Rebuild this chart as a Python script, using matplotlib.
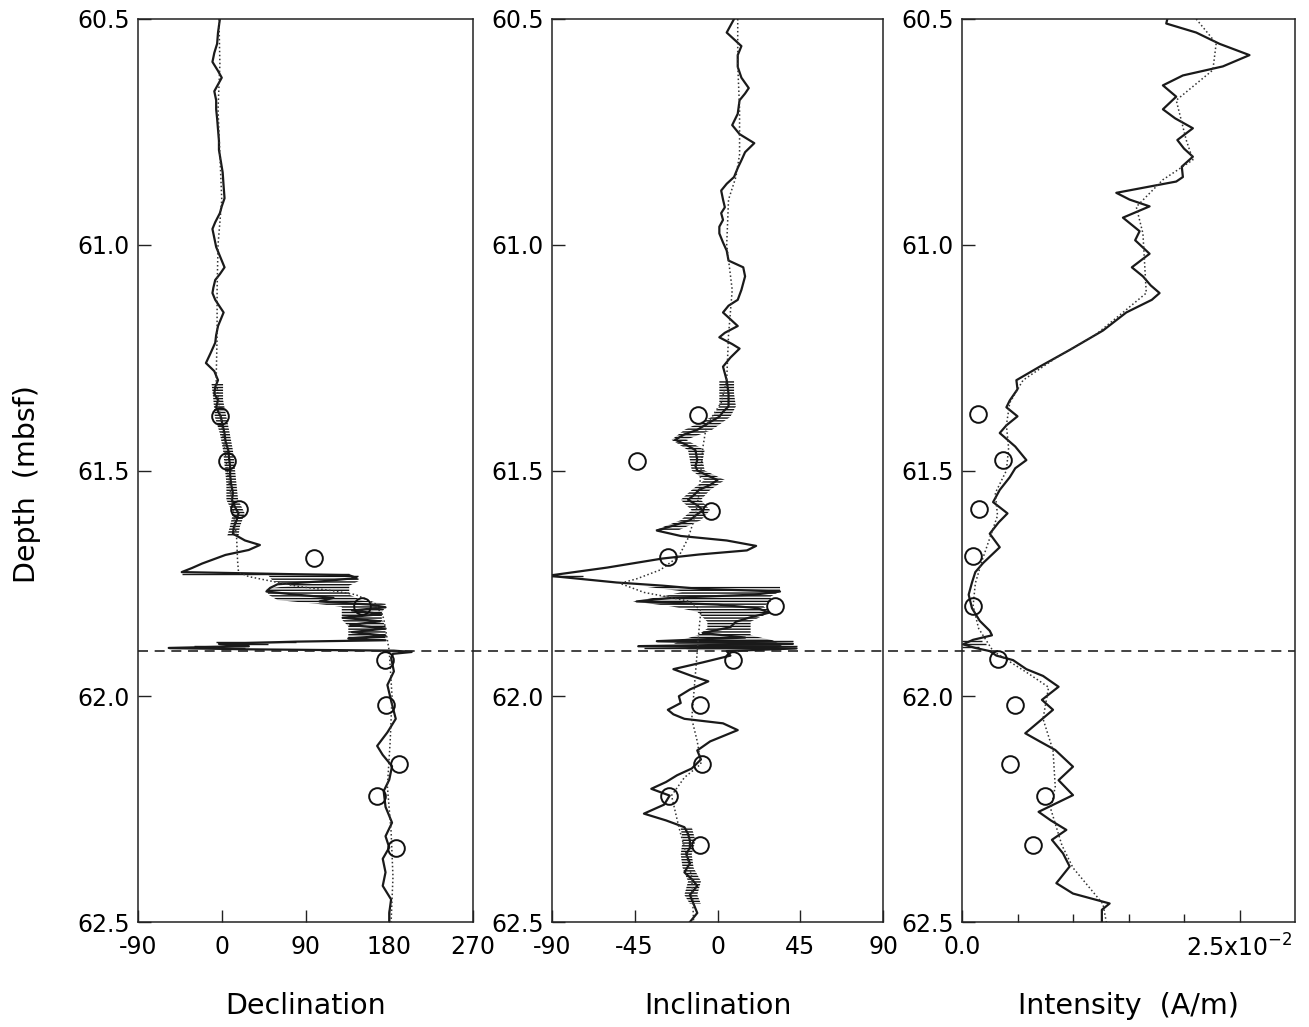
import numpy as np
import matplotlib
matplotlib.use('Agg')
import matplotlib.pyplot as plt

plt.rcParams['font.family'] = ['DejaVu Sans']
plt.rcParams['mathtext.default'] = 'regular'
plt.rcParams['hatch.linewidth'] = 1.0

# ---- declination (deg) ----
dec_depth = [60.500, 60.530, 60.555, 60.575, 60.595, 60.615, 60.630, 60.645, 60.660, 60.680,
             60.700, 60.720, 60.745, 60.770, 60.790, 60.815, 60.840, 60.870, 60.897, 60.915,
             60.930, 60.950, 60.965, 60.985, 61.005, 61.030, 61.050, 61.065, 61.078, 61.095,
             61.107, 61.122, 61.150, 61.180, 61.200, 61.217, 61.240, 61.262, 61.280, 61.300,
             61.315, 61.330, 61.344, 61.360, 61.381, 61.400, 61.418, 61.435, 61.455, 61.475,
             61.492, 61.510, 61.529, 61.550, 61.565, 61.580, 61.595, 61.610, 61.625, 61.640,
             61.655, 61.665, 61.676, 61.687, 61.706, 61.716, 61.725, 61.732, 61.738, 61.745,
             61.752, 61.760, 61.768, 61.775, 61.782, 61.790, 61.797, 61.803, 61.810, 61.818,
             61.826, 61.834, 61.842, 61.850, 61.858, 61.866, 61.872, 61.876, 61.879, 61.884,
             61.889, 61.893, 61.896, 61.899, 61.902, 61.906, 61.915, 61.945, 61.975, 62.010,
             62.050, 62.080, 62.110, 62.130, 62.155, 62.185, 62.210, 62.245, 62.280, 62.310,
             62.335, 62.360, 62.390, 62.420, 62.450, 62.480, 62.500]
dec_value = [-2, -4, -5, -8, -10, -4, 0, -4, -8, -6,
             -6, -5, -4, -3, -3, -1, 1, 2, 3, 0,
             -2, -7, -10, -8, -6, -1, 3, -2, -7, -9,
             -10, -7, 2, -4, -6, -7, -12, -17, -8, -4,
             -7, -8, -4, -6, -1, 1, 3, 4, 7, 8,
             9, 9, 10, 12, 11, 14, 18, 16, 13, 12,
             25, 41, 29, 4, -21, -32, -43, 137, 145, 110,
             60, 52, 48, 80, 120, 105, 160, 176, 140, 172,
             130, 170, 138, 176, 140, 176, 136, 176, 80, -3,
             29, -57, 25, 185, 204, 184, 182, 185, 178, 182,
             187, 178, 167, 173, 183, 180, 174, 176, 183, 176,
             180, 173, 176, 173, 182, 180, 180]
dec_band1_depth = [61.307, 61.344, 61.381, 61.418, 61.455, 61.492, 61.529, 61.565, 61.595, 61.625, 61.645]
dec_band1_left = [-11, -9, -7.5, -2, 1.4, 3.2, 5, 5, 12, 8.6, 6]
dec_band1_right = [1.4, 1.4, 5, 8.6, 12, 14, 15.8, 17.6, 24.7, 19.4, 18]
dec_band2_depth = [61.732, 61.745, 61.755, 61.762, 61.775, 61.787, 61.795, 61.802, 61.815, 61.830, 61.845, 61.860, 61.872]
dec_band2_left = [50, 55, 75, 48, 50, 60, 101, 129, 129, 129, 136, 136, 136]
dec_band2_right = [147, 147, 137, 137, 137, 150, 176, 176, 172, 172, 176, 176, 176]
dec_spike_depth = [61.730, 61.879, 61.884, 61.889, 61.893, 61.900]
dec_spike_left = [-43, -6, -3, -30, -57, 172]
dec_spike_right = [137, 80, 50, 29, 25, 204]
dec_smooth_depth = [60.5, 60.6, 60.7, 60.8, 60.9, 61.0, 61.1, 61.2, 61.3, 61.4, 61.5, 61.6, 61.65, 61.7,
                    61.725, 61.735, 61.75, 61.757, 61.766, 61.775, 61.795, 61.827, 61.9, 62.0, 62.1,
                    62.2, 62.3, 62.4, 62.5]
dec_smooth_value = [-3, -2, -4, -2, 0, -4, -5, -5, -6, 0, 6, 13, 16, 17,
                    18, 29, 65, 83, 118, 144, 165, 174, 180, 183, 181,
                    178, 182, 184, 182]
dec_disc_depth = [61.38, 61.48, 61.585, 61.693, 61.80, 61.92, 62.02, 62.15, 62.22, 62.335]
dec_disc_value = [-1.4, 5.7, 18, 99, 151, 175, 176, 191, 167, 187]

# ---- inclination (deg) ----
inc_depth = [60.500, 60.515, 60.530, 60.545, 60.560, 60.580, 60.606, 60.630, 60.653, 60.665,
             60.680, 60.710, 60.735, 60.755, 60.775, 60.795, 60.813, 60.830, 60.850, 60.865,
             60.880, 60.900, 60.917, 60.930, 60.945, 60.960, 60.975, 60.995, 61.013, 61.035,
             61.050, 61.070, 61.085, 61.100, 61.122, 61.135, 61.150, 61.165, 61.180, 61.195,
             61.205, 61.220, 61.230, 61.250, 61.270, 61.285, 61.300, 61.330, 61.358, 61.370,
             61.381, 61.395, 61.410, 61.420, 61.432, 61.443, 61.455, 61.477, 61.490, 61.500,
             61.512, 61.521, 61.532, 61.543, 61.555, 61.565, 61.577, 61.588, 61.600, 61.610,
             61.622, 61.633, 61.645, 61.655, 61.667, 61.677, 61.686, 61.695, 61.705, 61.715,
             61.725, 61.733, 61.740, 61.748, 61.755, 61.762, 61.768, 61.775, 61.782, 61.790,
             61.797, 61.805, 61.815, 61.825, 61.835, 61.847, 61.860, 61.870, 61.878, 61.884,
             61.889, 61.894, 61.900, 61.910, 61.925, 61.940, 61.955, 61.967, 61.985, 62.000,
             62.015, 62.030, 62.040, 62.050, 62.060, 62.075, 62.085, 62.100, 62.120, 62.140,
             62.160, 62.175, 62.190, 62.205, 62.220, 62.240, 62.260, 62.275, 62.290, 62.305,
             62.320, 62.335, 62.350, 62.370, 62.390, 62.405, 62.420, 62.440, 62.460, 62.480,
             62.500]
inc_value = [9, 7, 5, 9, 13, 11, 11, 13, 17, 15,
             12, 11, 8, 12, 20, 15, 13, 11, 9, 5,
             2, 3, 4, 2, 3, 1, 1, 3, 5, 6,
             14, 15, 14, 13, 11, 6, 3, 7, 11, 4,
             1, 8, 12, 7, 3, 4, 5, 6, 6, 3,
             1, -5, -11, -18, -23, -17, -12, -11, -12, -11,
             -5, 0, -4, -10, -13, -16, -11, -8, -12, -15,
             -24, -33, -20, 5, 21, 16, -10, -30, -45, -60,
             -78, -92, -75, -55, -30, -10, 34, 20, -25, -44,
             0, 22, 28, 18, 10, 7, -8, 15, -33, 41,
             -43, 43, 5, 7, -8, -24, -14, -5, -15, -21,
             -20, -27, -24, -18, 3, 11, 5, -4, -11, -9,
             -14, -22, -28, -36, -26, -29, -40, -28, -18, -16,
             -15, -15, -17, -15, -18, -14, -11, -15, -13, -11,
             -15]
inc_band1_depth = [61.300, 61.330, 61.358, 61.381, 61.410, 61.432, 61.455, 61.477, 61.500, 61.521,
                   61.543, 61.565, 61.588, 61.610, 61.632]
inc_band1_left = [1, 1, 1, -3, -18, -25, -16, -15, -14, -7, -14, -20, -14, -20, -34]
inc_band1_right = [9, 9, 10, 7, -3, -17, -7, -8, -7, 4, -4, -9, -4, -9, -21]
inc_band2_depth = [61.757, 61.768, 61.779, 61.790, 61.801, 61.813, 61.835, 61.850, 61.865, 61.876, 61.887, 61.898]
inc_band2_left = [-40, -18, -30, -46, -25, -11, -5.5, -5.5, -11, -20, -25, -15]
inc_band2_right = [34, 34, 29, 29, 25, 29, 18, 18, 18, 30, 35, 30]
inc_band3_depth = [62.29, 62.32, 62.35, 62.38, 62.41, 62.44, 62.46]
inc_band3_left = [-20, -19, -20, -19, -16, -18, -15]
inc_band3_right = [-14, -12, -14, -13, -9, -11, -9]
inc_spike_depth = [61.733, 61.878, 61.888, 61.894]
inc_spike_left = [-92, -33, -43.6, -40]
inc_spike_right = [-73, 41, 43.5, 42]
inc_smooth_depth = [60.5, 60.6, 60.7, 60.8, 60.85, 60.9, 61.0, 61.1, 61.2, 61.3, 61.35, 61.4, 61.45,
                    61.5, 61.55, 61.6, 61.65, 61.69, 61.72, 61.74, 61.75, 61.77, 61.78, 61.79, 61.81,
                    61.85, 61.9, 61.95, 62.0, 62.05, 62.1, 62.15, 62.18, 62.22, 62.29, 62.35, 62.4, 62.5]
inc_smooth_value = [11, 11, 12, 12, 10, 6, 5, 8, 6, 5, 2, -6, -8,
                    -9, -10, -12, -16, -21, -31, -44, -53, -40, -27, -15, -9,
                    -10, -11, -12, -13, -14, -11, -9, -18, -25, -21, -17, -14, -13]
inc_disc_depth = [61.377, 61.48, 61.589, 61.692, 61.80, 61.92, 62.02, 62.15, 62.22, 62.33]
inc_disc_value = [-10.5, -43.6, -3.8, -27, 31, 8.5, -9.6, -8.2, -26.5, -9.6]

# ---- intensity (x 1e-2 A/m) ----
int_depth = [60.500, 60.510, 60.530, 60.555, 60.580, 60.605, 60.625, 60.647, 60.672, 60.700,
             60.720, 60.742, 60.768, 60.787, 60.805, 60.827, 60.850, 60.860, 60.885, 60.900,
             60.915, 60.940, 60.970, 60.990, 61.020, 61.050, 61.070, 61.090, 61.107, 61.122,
             61.150, 61.190, 61.233, 61.270, 61.300, 61.320, 61.345, 61.360, 61.380, 61.400,
             61.417, 61.447, 61.477, 61.495, 61.515, 61.543, 61.570, 61.595, 61.615, 61.640,
             61.670, 61.705, 61.725, 61.748, 61.775, 61.805, 61.833, 61.855, 61.865, 61.875,
             61.885, 61.893, 61.900, 61.910, 61.920, 61.940, 61.955, 61.979, 62.008, 62.030,
             62.055, 62.082, 62.100, 62.119, 62.156, 62.186, 62.219, 62.256, 62.275, 62.296,
             62.318, 62.348, 62.377, 62.414, 62.437, 62.459, 62.473, 62.500]
int_value = [1.85, 1.84, 2.11, 2.32, 2.59, 2.35, 1.99, 1.81, 1.93, 1.81,
             1.92, 2.08, 1.94, 2.00, 2.08, 1.98, 1.99, 1.93, 1.39, 1.51,
             1.69, 1.45, 1.60, 1.56, 1.69, 1.53, 1.63, 1.70, 1.78, 1.71,
             1.48, 1.27, 0.97, 0.70, 0.49, 0.50, 0.43, 0.40, 0.50, 0.40,
             0.34, 0.48, 0.58, 0.48, 0.43, 0.34, 0.28, 0.41, 0.33, 0.25,
             0.34, 0.19, 0.12, 0.09, 0.06, 0.09, 0.16, 0.25, 0.27, 0.10,
             0.01, 0.12, 0.25, 0.31, 0.46, 0.58, 0.73, 0.87, 0.72, 0.82,
             0.70, 0.57, 0.70, 0.84, 1.00, 0.87, 1.00, 0.69, 0.80, 0.94,
             0.81, 0.91, 0.97, 0.85, 1.00, 1.33, 1.26, 1.26]
int_spike_depth = [61.877, 61.885, 61.892]
int_spike_left = [0.0, 0.0, 0.0]
int_spike_right = [0.18, 0.22, 0.15]
int_smooth_depth = [60.5, 60.554, 60.613, 60.68, 60.768, 60.812, 60.856, 60.916, 60.975, 61.107,
                    61.15, 61.2, 61.25, 61.3, 61.35, 61.4, 61.45, 61.5, 61.55, 61.6, 61.65, 61.7,
                    61.75, 61.8, 61.85, 61.9, 61.95, 61.98, 62.05, 62.12, 62.2, 62.25, 62.33, 62.38,
                    62.46, 62.5]
int_smooth_value = [2.11, 2.29, 2.26, 1.93, 2.02, 2.08, 1.81, 1.57, 1.63, 1.66,
                    1.45, 1.20, 0.85, 0.55, 0.43, 0.40, 0.42, 0.40, 0.30, 0.32, 0.25, 0.18,
                    0.12, 0.10, 0.15, 0.28, 0.60, 0.78, 0.73, 0.82, 0.84, 0.80, 0.90, 1.00,
                    1.27, 1.30]
int_disc_depth = [61.375, 61.477, 61.585, 61.69, 61.80, 61.917, 62.02, 62.15, 62.22, 62.33]
int_disc_value = [0.14, 0.37, 0.15, 0.10, 0.10, 0.32, 0.48, 0.43, 0.75, 0.64]

boundary_depth = 61.9
depth_ticks = [60.5, 61.0, 61.5, 62.0, 62.5]

W, H = 1309, 1027
fig = plt.figure(figsize=(W / 100, H / 100), dpi=100)
bottom = 1 - 922 / H
height = 903 / H
ax1 = fig.add_axes([138 / W, bottom, 335 / W, height])
ax2 = fig.add_axes([552 / W, bottom, 331 / W, height])
ax3 = fig.add_axes([962 / W, bottom, 333 / W, height])

scale = 1e-2
panels = [
    (ax1, dec_depth, dec_value,
     [(dec_band1_depth, dec_band1_left, dec_band1_right), (dec_band2_depth, dec_band2_left, dec_band2_right)],
     (dec_spike_depth, dec_spike_left, dec_spike_right),
     (dec_smooth_depth, dec_smooth_value), (dec_disc_depth, dec_disc_value), 1.0),
    (ax2, inc_depth, inc_value,
     [(inc_band1_depth, inc_band1_left, inc_band1_right), (inc_band2_depth, inc_band2_left, inc_band2_right),
      (inc_band3_depth, inc_band3_left, inc_band3_right)],
     (inc_spike_depth, inc_spike_left, inc_spike_right),
     (inc_smooth_depth, inc_smooth_value), (inc_disc_depth, inc_disc_value), 1.0),
    (ax3, int_depth, int_value, [],
     (int_spike_depth, int_spike_left, int_spike_right),
     (int_smooth_depth, int_smooth_value), (int_disc_depth, int_disc_value), scale),
]

for ax, d, v, bands, spikes, smooth, disc, f in panels:
    ax.set_facecolor('none')
    for bd, bl, br in bands:
        ax.fill_betweenx(bd, np.array(bl) * f, np.array(br) * f, facecolor='none',
                         edgecolor='#111111', hatch='------', linewidth=0)
    sd, sl, sr = spikes
    ax.hlines(sd, np.array(sl) * f, np.array(sr) * f, colors='#1a1a1a', linewidth=1.0)
    ax.plot(np.array(v) * f, d, color='#1a1a1a', linewidth=1.6)
    ax.plot(np.array(smooth[1]) * f, smooth[0], color='#333333', linewidth=1.1,
            linestyle=(0, (1, 1.6)))
    ax.plot(np.array(disc[1]) * f, disc[0], 'o', markersize=12, markerfacecolor='none',
            markeredgecolor='#111111', markeredgewidth=1.4)
    ax.set_ylim(62.5, 60.5)
    ax.set_yticks(depth_ticks)
    ax.set_yticklabels(['%.1f' % t for t in depth_ticks])
    ax.tick_params(direction='in', length=9, width=1.0, labelsize=17, color='#222222')
    ax.tick_params(axis='x', pad=9)
    ax.tick_params(axis='y', pad=6)
    for sp in ax.spines.values():
        sp.set_linewidth(1.1)
        sp.set_color('#222222')

ax1.set_xlim(-90, 270)
ax1.set_xticks([-90, 0, 90, 180, 270])
ax1.set_xticklabels(['-90', '0', '90', '180', '270'])
ax2.set_xlim(-90, 90)
ax2.set_xticks([-90, -45, 0, 45, 90])
ax2.set_xticklabels(['-90', '-45', '0', '45', '90'])
ax3.set_xlim(0, 0.03)
ax3.set_xticks([0, 0.025])
ax3.set_xticklabels(['0.0', '2.5x10$^{-2}$'])
ax3.set_xticks([0.005, 0.01, 0.015, 0.02], minor=True)
ax3.tick_params(axis='x', which='minor', direction='in', length=6, width=1.0, color='#222222')

ax1.set_xlabel('Declination', fontsize=20.5)
ax2.set_xlabel('Inclination', fontsize=20.5)
ax3.set_xlabel('Intensity  (A/m)', fontsize=20.5)
for ax in (ax1, ax2, ax3):
    ax.xaxis.set_label_coords(0.5, -0.077)
ax1.set_ylabel('Depth  (mbsf)', fontsize=20.5)
ax1.yaxis.set_label_coords(-0.29, 0.485)

# polarity boundary drawn across all three panels
ax1.axhline(boundary_depth, xmin=0, xmax=(1295 - 138) / 335, clip_on=False,
            color='#222222', linewidth=1.2, dashes=(6, 4), zorder=5)

fig.savefig('out.png', dpi=100)
